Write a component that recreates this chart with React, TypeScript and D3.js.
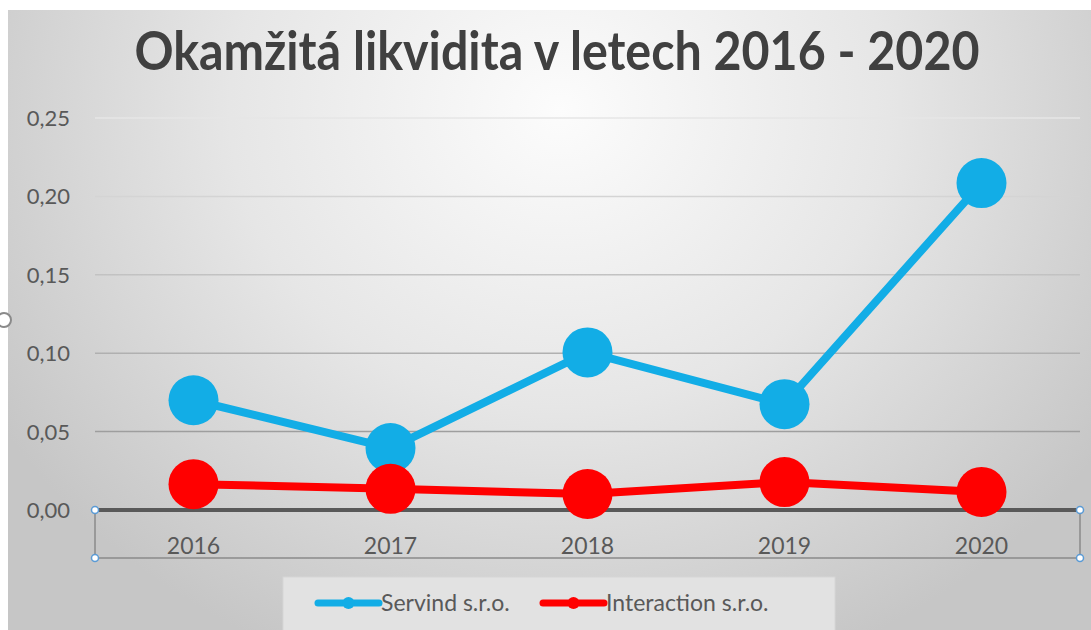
import React, { useEffect, useRef } from "react";
import * as d3 from "d3";

const years = ["2016", "2017", "2018", "2019", "2020"];
const servind = [0.07, 0.0395, 0.1005, 0.0675, 0.2085];
const interaction = [0.0165, 0.0135, 0.0102, 0.0178, 0.0115];
const yTicks = [0, 0.05, 0.1, 0.15, 0.2, 0.25];
const seriesNames = ["Servind s.r.o.", "Interaction s.r.o."];
const seriesColors = ["#12ade6", "#ff0000"];

const W = 1091;
const H = 630;
const FONT = "Lato, 'Open Sans', sans-serif";

export default function App() {
  const ref = useRef<SVGSVGElement>(null);

  useEffect(() => {
    const svg = d3.select(ref.current);
    svg.selectAll("*").remove();

    const defs = svg.append("defs");
    const bg = defs
      .append("radialGradient")
      .attr("id", "bg")
      .attr("gradientUnits", "userSpaceOnUse")
      .attr("cx", 560)
      .attr("cy", 110)
      .attr("r", 660)
      .attr("gradientTransform", "translate(560,110) scale(1,0.9) translate(-560,-110)");
    bg.append("stop").attr("offset", 0).attr("stop-color", "#fcfcfc");
    bg.append("stop").attr("offset", 0.5).attr("stop-color", "#e6e6e6");
    bg.append("stop").attr("offset", 1).attr("stop-color", "#c6c6c6");

    const grid = defs
      .append("linearGradient")
      .attr("id", "grid")
      .attr("gradientUnits", "userSpaceOnUse")
      .attr("x1", 0)
      .attr("x2", 0)
      .attr("y1", 118)
      .attr("y2", 510);
    grid.append("stop").attr("offset", 0).attr("stop-color", "#e6e6e6");
    grid.append("stop").attr("offset", 1).attr("stop-color", "#8c8c8c");

    svg
      .append("rect")
      .attr("x", 8)
      .attr("y", 10)
      .attr("width", W - 8)
      .attr("height", H - 10)
      .attr("fill", "url(#bg)");

    svg
      .append("text")
      .attr("x", 557)
      .attr("y", 70)
      .attr("text-anchor", "middle")
      .attr("font-family", FONT)
      .attr("font-weight", "bold")
      .attr("font-size", 53)
      .attr("fill", "#404040")
      .attr("textLength", 845)
      .attr("lengthAdjust", "spacingAndGlyphs")
      .text("Okamžitá likvidita v letech 2016 - 2020");

    const left = 95;
    const right = 1080;
    const x = d3.scaleBand().domain(years).range([left, right]);
    const y = d3.scaleLinear().domain([0, 0.25]).range([510, 118]);
    const cx = (d: string) => (x(d) as number) + x.bandwidth() / 2;

    const g = svg.append("g");
    g.selectAll("line.grid")
      .data(yTicks.filter((t) => t > 0))
      .enter()
      .append("line")
      .attr("x1", left)
      .attr("x2", right)
      .attr("y1", (d) => y(d))
      .attr("y2", (d) => y(d))
      .attr("stroke", "url(#grid)")
      .attr("stroke-width", 1.5);

    g.selectAll("text.ytick")
      .data(yTicks)
      .enter()
      .append("text")
      .attr("x", 70)
      .attr("y", (d) => y(d) + 8)
      .attr("text-anchor", "end")
      .attr("font-family", FONT)
      .attr("font-size", 22)
      .attr("fill", "#595959")
      .text((d) => d3.format(".2f")(d).replace(".", ","));

    // selection box around category axis
    g.append("rect")
      .attr("x", left)
      .attr("y", 510)
      .attr("width", right - left)
      .attr("height", 48)
      .attr("fill", "none")
      .attr("stroke", "#8a8a8a")
      .attr("stroke-width", 1.5);

    g.append("line")
      .attr("x1", left)
      .attr("x2", right)
      .attr("y1", 510)
      .attr("y2", 510)
      .attr("stroke", "#595959")
      .attr("stroke-width", 4);

    g.selectAll("text.xtick")
      .data(years)
      .enter()
      .append("text")
      .attr("x", (d) => cx(d))
      .attr("y", 554)
      .attr("text-anchor", "middle")
      .attr("font-family", FONT)
      .attr("font-size", 23)
      .attr("fill", "#595959")
      .text((d) => d);

    const line = d3
      .line<number>()
      .x((_, i) => cx(years[i]))
      .y((d) => y(d));

    [servind, interaction].forEach((vals, si) => {
      const s = g.append("g");
      s.append("path")
        .datum(vals)
        .attr("d", line)
        .attr("fill", "none")
        .attr("stroke", seriesColors[si])
        .attr("stroke-width", 8)
        .attr("stroke-linejoin", "round");
      s.selectAll("circle")
        .data(vals)
        .enter()
        .append("circle")
        .attr("cx", (_, i) => cx(years[i]))
        .attr("cy", (d) => y(d))
        .attr("r", 25)
        .attr("fill", seriesColors[si]);
    });

    // selection handles
    const handles: [number, number][] = [
      [left, 510],
      [right, 510],
      [left, 558],
      [right, 558],
    ];
    g.selectAll("circle.handle")
      .data(handles)
      .enter()
      .append("circle")
      .attr("cx", (d) => d[0])
      .attr("cy", (d) => d[1])
      .attr("r", 3.5)
      .attr("fill", "#ffffff")
      .attr("stroke", "#5b9bd5")
      .attr("stroke-width", 1.5);

    svg
      .append("circle")
      .attr("cx", 4)
      .attr("cy", 320)
      .attr("r", 7)
      .attr("fill", "#ffffff")
      .attr("stroke", "#8a8a8a")
      .attr("stroke-width", 2);

    // legend
    const lg = svg.append("g");
    lg.append("rect")
      .attr("x", 283)
      .attr("y", 577)
      .attr("width", 552)
      .attr("height", 60)
      .attr("fill", "#e2e2e2")
      .attr("stroke", "#d6d6d6");
    const items = [
      { x0: 318, x1: 379, tx: 381 },
      { x0: 543, x1: 604, tx: 606 },
    ];
    items.forEach((it, i) => {
      lg.append("line")
        .attr("x1", it.x0)
        .attr("x2", it.x1)
        .attr("y1", 603)
        .attr("y2", 603)
        .attr("stroke", seriesColors[i])
        .attr("stroke-width", 7)
        .attr("stroke-linecap", "round");
      lg.append("circle")
        .attr("cx", (it.x0 + it.x1) / 2)
        .attr("cy", 603)
        .attr("r", 6)
        .attr("fill", seriesColors[i]);
      lg.append("text")
        .attr("x", it.tx)
        .attr("y", 611)
        .attr("font-family", FONT)
        .attr("font-size", 23)
        .attr("fill", "#595959")
        .text(seriesNames[i]);
    });
  }, []);

  return (
    <svg
      ref={ref}
      width={W}
      height={H}
      style={{ position: "absolute", left: 0, top: 0, display: "block" }}
    />
  );
}
